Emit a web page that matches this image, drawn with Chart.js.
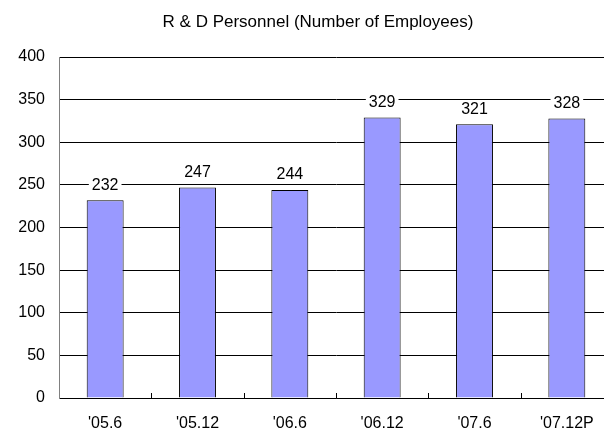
<!DOCTYPE html>
<html>
<head>
<meta charset="utf-8">
<script src="https://cdn.jsdelivr.net/npm/chart.js@4"></script>
<style>
  html, body { margin: 0; padding: 0; background: #fff; overflow: hidden; }
  #wrap { position: relative; width: 604px; height: 432px; overflow: hidden; }
  #title { position: absolute; left: 0; width: 636px; top: 12px; text-align: center;
           font: 17px "Liberation Sans", Arial, sans-serif; color: #000; white-space: nowrap; }
  #box { position: absolute; left: 0; top: 0; width: 620px; height: 432px; }
</style>
</head>
<body>
<div id="wrap">
  <div id="box"><canvas id="rdChart"></canvas></div>
  <div id="title">R &amp; D Personnel (Number of Employees)</div>
</div>
<script>
// periods and headcount
const periods = ["'05.6", "'05.12", "'06.6", "'06.12", "'07.6", "'07.12P"];
const employees = [232, 247, 244, 329, 321, 328];
const yTicks = [0, 50, 100, 150, 200, 250, 300, 350, 400];

const FONT = '"Liberation Sans", Arial, sans-serif';

// value labels above bars, on a white patch so the gridline breaks
const valueLabels = {
  id: 'valueLabels',
  afterDatasetsDraw(chart) {
    const ctx = chart.ctx;
    const meta = chart.getDatasetMeta(0);
    ctx.save();
    ctx.font = '16px ' + FONT;
    ctx.textAlign = 'center';
    ctx.textBaseline = 'middle';
    meta.data.forEach((bar, i) => {
      const txt = String(employees[i]);
      const w = ctx.measureText(txt).width;
      const y = bar.y - 15;
      ctx.fillStyle = '#fff';
      ctx.fillRect(bar.x - w / 2 - 3, y - 8, w + 6, 16);
      ctx.fillStyle = '#000';
      ctx.fillText(txt, bar.x, y);
    });
    ctx.restore();
  }
};

// small inward tick marks between categories
const innerTicks = {
  id: 'innerTicks',
  afterDraw(chart) {
    const ctx = chart.ctx;
    const x = chart.scales.x;
    const bottom = chart.chartArea.bottom;
    ctx.save();
    ctx.strokeStyle = '#000';
    ctx.lineWidth = 1;
    for (let i = 1; i < periods.length; i++) {
      const px = Math.round((x.getPixelForValue(i - 1) + x.getPixelForValue(i)) / 2) + 0.5;
      ctx.beginPath();
      ctx.moveTo(px, bottom);
      ctx.lineTo(px, bottom - 5);
      ctx.stroke();
    }
    ctx.restore();
  }
};

new Chart(document.getElementById('rdChart'), {
  type: 'bar',
  data: {
    labels: periods,
    datasets: [{
      data: employees,
      backgroundColor: '#9999FF',
      borderColor: '#000',
      borderWidth: 1,
      barPercentage: 0.4,
      categoryPercentage: 1
    }]
  },
  options: {
    responsive: true,
    maintainAspectRatio: false,
    animation: false,
    layout: { padding: { top: 57, right: 7, left: 0, bottom: 0 } },
    plugins: {
      legend: { display: false },
      title: { display: false },
      tooltip: { enabled: false }
    },
    scales: {
      x: {
        offset: true,
        grid: { display: false },
        border: { color: '#000', width: 1 },
        ticks: { color: '#000', font: { family: FONT, size: 16 }, padding: 8 },
        afterFit(scale) { scale.height = 34; }
      },
      y: {
        min: 0,
        max: 400,
        afterBuildTicks(scale) { scale.ticks = yTicks.map(v => ({ value: v })); },
        grid: { color: '#000', lineWidth: 1, drawTicks: false },
        border: { color: '#808080', width: 1 },
        ticks: { color: '#000', font: { family: FONT, size: 16 }, padding: 14 },
        afterFit(scale) { scale.width = 59; }
      }
    }
  },
  plugins: [valueLabels, innerTicks]
});
</script>
</body>
</html>
